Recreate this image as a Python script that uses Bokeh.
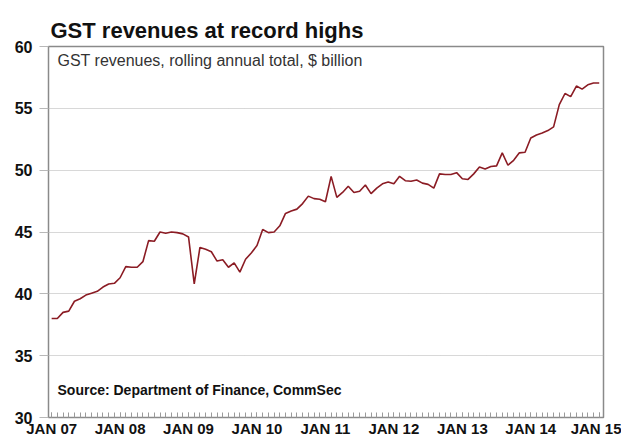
from bokeh.plotting import figure
from bokeh.models import Range1d, FixedTicker, Label
from bokeh.embed import file_html
from bokeh.resources import INLINE

title_text = "GST revenues at record highs"
subtitle_text = "GST revenues, rolling annual total, $ billion"
source_text = "Source: Department of Finance, CommSec"

# monthly index from Jan 2007 (0) to Jan 2015 (96)
gst_billion = [
    38.0, 38.0, 38.5, 38.6, 39.4, 39.6, 39.9, 40.05, 40.2, 40.55, 40.8, 40.85,
    41.3, 42.2, 42.15, 42.15, 42.6, 44.3, 44.25, 45.0, 44.9, 45.0, 44.95, 44.85,
    44.6, 40.8, 43.75, 43.6, 43.4, 42.65, 42.75, 42.15, 42.5, 41.75, 42.8, 43.3,
    43.9, 45.2, 44.95, 45.0, 45.5, 46.5, 46.7, 46.85, 47.3, 47.9, 47.7, 47.65,
    47.45, 49.5, 47.8, 48.2, 48.7, 48.2, 48.3, 48.8, 48.1, 48.55, 48.9, 49.05,
    48.9, 49.5, 49.15, 49.1, 49.2, 48.95, 48.85, 48.55, 49.7, 49.65, 49.65, 49.8,
    49.3, 49.25, 49.7, 50.25, 50.1, 50.3, 50.35, 51.4, 50.4, 50.8, 51.4, 51.45,
    52.6, 52.85, 53.0, 53.2, 53.5, 55.3, 56.2, 55.95, 56.8, 56.55, 56.9, 57.05,
    57.05,
]
months = list(range(len(gst_billion)))

x_tick_pos = [0, 12, 24, 36, 48, 60, 72, 84, 96]
x_tick_labels = ["JAN 07", "JAN 08", "JAN 09", "JAN 10", "JAN 11",
                 "JAN 12", "JAN 13", "JAN 14", "JAN 15"]
y_ticks = [30, 35, 40, 45, 50, 55, 60]

p = figure(width=621, height=439, output_backend="svg", toolbar_location=None,
           x_range=Range1d(-0.55, 96.75), y_range=Range1d(30, 60),
           min_border_left=48, min_border_right=18, min_border_top=46,
           min_border_bottom=18)

p.title.text = title_text
p.title.text_font = "Liberation Sans"
p.title.text_font_size = "22px"
p.title.text_font_style = "bold"
p.title.text_color = "#111111"
p.title.offset = 2
p.title.standoff = 8

p.outline_line_color = "#8a8a8a"
p.outline_line_width = 1.5
p.background_fill_color = "white"
p.border_fill_color = "white"

p.line(months, gst_billion, line_color="#8b1c24", line_width=1.6)

# x axis
xa = p.xaxis[0]
xa.ticker = FixedTicker(ticks=x_tick_pos, minor_ticks=months)
xa.major_label_overrides = {t: l for t, l in zip(x_tick_pos, x_tick_labels)}
xa.major_label_text_font = "Liberation Sans"
xa.major_label_text_font_size = "15px"
xa.major_label_text_font_style = "bold"
xa.major_label_text_color = "#111111"
xa.major_label_standoff = 2
xa.axis_line_color = "#8a8a8a"
xa.major_tick_in = 5
xa.major_tick_out = 0
xa.minor_tick_in = 5
xa.minor_tick_out = 0
xa.major_tick_line_color = "#9a9a9a"
xa.minor_tick_line_color = "#9a9a9a"

# y axis
ya = p.yaxis[0]
ya.ticker = FixedTicker(ticks=y_ticks, minor_ticks=[])
ya.major_label_text_font = "Liberation Sans"
ya.major_label_text_font_size = "16px"
ya.major_label_text_font_style = "bold"
ya.major_label_text_color = "#111111"
ya.major_label_standoff = 7
ya.axis_line_color = "#8a8a8a"
ya.major_tick_in = 0
ya.major_tick_out = 9
ya.major_tick_line_color = "#b8b8b8"
ya.minor_tick_line_color = None

p.xgrid.grid_line_color = None
p.ygrid.grid_line_color = "#b0b0b0"
p.ygrid.grid_line_dash = "1 1"
p.ygrid.grid_line_width = 1

p.add_layout(Label(x=9, y=366, x_units="screen", y_units="screen",
                   text=subtitle_text, text_font="Liberation Sans",
                   text_font_size="16px", text_color="#333333",
                   text_baseline="top"))

p.add_layout(Label(x=9, y=28, x_units="screen", y_units="screen",
                   text=source_text, text_font="Liberation Sans",
                   text_font_size="14px", text_font_style="bold",
                   text_color="#111111", text_baseline="middle"))

open("out.html", "w").write(file_html(p, INLINE))
